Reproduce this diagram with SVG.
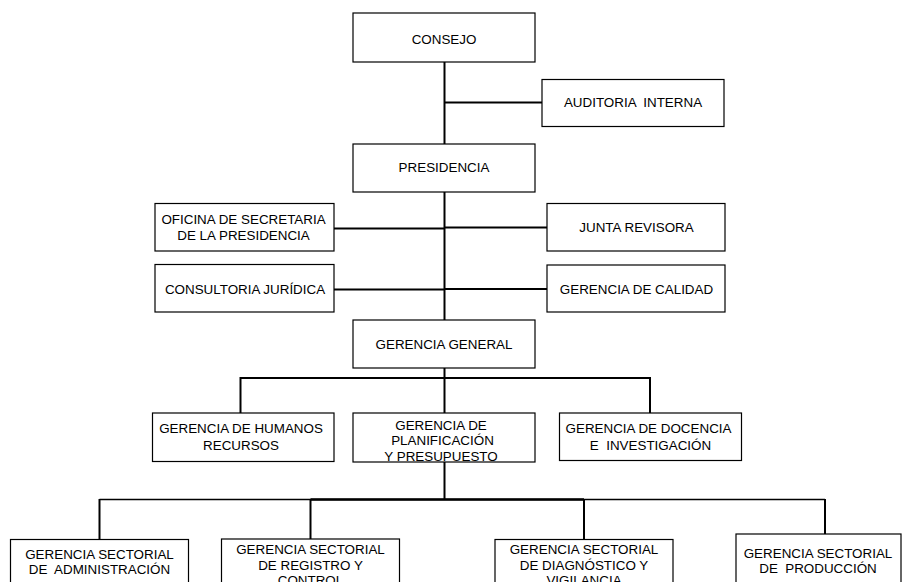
<svg xmlns="http://www.w3.org/2000/svg" width="902" height="582" viewBox="0 0 902 582">
  <style>
    .box { fill: #ffffff; stroke: #000000; stroke-width: 1.2; }
    .lbl { font-family: "Liberation Sans", Arial, sans-serif; font-size: 13.4px; fill: #000000; text-anchor: middle; }
    .ln { fill: none; stroke: #000000; stroke-width: 2; }
    .thin { fill: none; stroke: #000000; stroke-width: 1.5; }
    .thick { fill: none; stroke: #000000; stroke-width: 2.6; }
  </style>
  <rect width="902" height="582" fill="#ffffff"/>

  <!-- connectors -->
  <g id="connectors">
    <!-- main trunk -->
    <line class="ln" x1="444.5" y1="62" x2="444.5" y2="144"/>
    <line class="ln" x1="444.5" y1="192" x2="444.5" y2="320"/>
    <line class="ln" x1="444.5" y1="368" x2="444.5" y2="413"/>
    <line class="ln" x1="444.5" y1="462" x2="444.5" y2="499.5"/>
    <!-- side branches -->
    <line class="ln" x1="444.5" y1="102.5" x2="542" y2="102.5"/>
    <line class="ln" x1="334" y1="228.5" x2="444.5" y2="228.5"/>
    <line class="ln" x1="444.5" y1="227.5" x2="547" y2="227.5"/>
    <line class="ln" x1="334" y1="289.5" x2="444.5" y2="289.5"/>
    <line class="ln" x1="444.5" y1="289" x2="547" y2="289"/>
    <!-- second tier bar -->
    <line class="ln" x1="240.5" y1="378" x2="650" y2="378"/>
    <line class="ln" x1="240.5" y1="377" x2="240.5" y2="413"/>
    <line class="ln" x1="650" y1="377" x2="650" y2="413"/>
    <!-- sectoral bar -->
    <line class="thin" x1="99.5" y1="499.5" x2="825" y2="499.5"/>
    <line class="thick" x1="310.5" y1="499.5" x2="584" y2="499.5"/>
    <line class="ln" x1="99.5" y1="499" x2="99.5" y2="539.5"/>
    <line class="ln" x1="310.5" y1="499" x2="310.5" y2="539"/>
    <line class="ln" x1="584" y1="499" x2="584" y2="539.5"/>
    <line class="ln" x1="825" y1="499" x2="825" y2="534"/>
  </g>

  <g id="consejo">
    <rect class="box" x="353" y="13" width="182" height="49"/>
    <text class="lbl" x="444" y="44">CONSEJO</text>
  </g>

  <g id="auditoria-interna">
    <rect class="box" x="542" y="79.5" width="182" height="47"/>
    <text class="lbl" x="633" y="107" xml:space="preserve">AUDITORIA  INTERNA</text>
  </g>

  <g id="presidencia">
    <rect class="box" x="353" y="144" width="182" height="48"/>
    <text class="lbl" x="444" y="172">PRESIDENCIA</text>
  </g>

  <g id="oficina-secretaria">
    <rect class="box" x="155" y="203.5" width="179" height="47.5"/>
    <text class="lbl" x="243.5" y="223.5">OFICINA DE SECRETARIA</text>
    <text class="lbl" x="243.5" y="240">DE LA PRESIDENCIA</text>
  </g>

  <g id="junta-revisora">
    <rect class="box" x="547" y="203.5" width="178" height="47.5"/>
    <text class="lbl" x="636.5" y="232">JUNTA REVISORA</text>
  </g>

  <g id="consultoria-juridica">
    <rect class="box" x="155" y="264.5" width="179" height="47.5"/>
    <text class="lbl" x="245" y="294">CONSULTORIA JURÍDICA</text>
  </g>

  <g id="gerencia-calidad">
    <rect class="box" x="547" y="265" width="178" height="47"/>
    <text class="lbl" x="636.5" y="294">GERENCIA DE CALIDAD</text>
  </g>

  <g id="gerencia-general">
    <rect class="box" x="353" y="320" width="182" height="48"/>
    <text class="lbl" x="444" y="349">GERENCIA GENERAL</text>
  </g>

  <g id="gerencia-humanos">
    <rect class="box" x="152.5" y="413" width="181.5" height="48.5"/>
    <text class="lbl" x="241" y="433">GERENCIA DE HUMANOS</text>
    <text class="lbl" x="241" y="449.5">RECURSOS</text>
  </g>

  <g id="gerencia-planificacion">
    <rect class="box" x="353" y="413" width="182" height="49"/>
    <text class="lbl" x="441" y="430">GERENCIA DE</text>
    <text class="lbl" x="442.5" y="444.5">PLANIFICACIÓN</text>
    <text class="lbl" x="441" y="460.5">Y PRESUPUESTO</text>
  </g>

  <g id="gerencia-docencia">
    <rect class="box" x="559.5" y="413" width="182" height="47.5"/>
    <text class="lbl" x="648.5" y="433">GERENCIA DE DOCENCIA</text>
    <text class="lbl" x="650.5" y="449.5" xml:space="preserve">E  INVESTIGACIÓN</text>
  </g>

  <g id="sectorial-administracion">
    <rect class="box" x="10.5" y="539.5" width="178" height="60"/>
    <text class="lbl" x="99.5" y="558.5">GERENCIA SECTORIAL</text>
    <text class="lbl" x="99.5" y="573.5" xml:space="preserve">DE  ADMINISTRACIÓN</text>
  </g>

  <g id="sectorial-registro">
    <rect class="box" x="221.5" y="539" width="178" height="60"/>
    <text class="lbl" x="310.5" y="554">GERENCIA SECTORIAL</text>
    <text class="lbl" x="310.5" y="569.5">DE REGISTRO Y</text>
    <text class="lbl" x="310.5" y="585">CONTROL</text>
  </g>

  <g id="sectorial-diagnostico">
    <rect class="box" x="495" y="539.5" width="178" height="60"/>
    <text class="lbl" x="584" y="554">GERENCIA SECTORIAL</text>
    <text class="lbl" x="584" y="569.5">DE DIAGNÓSTICO Y</text>
    <text class="lbl" x="584" y="585">VIGILANCIA</text>
  </g>

  <g id="sectorial-produccion">
    <rect class="box" x="736" y="534" width="165" height="60"/>
    <text class="lbl" x="818" y="558">GERENCIA SECTORIAL</text>
    <text class="lbl" x="818" y="573" xml:space="preserve">DE  PRODUCCIÓN</text>
  </g>
</svg>
